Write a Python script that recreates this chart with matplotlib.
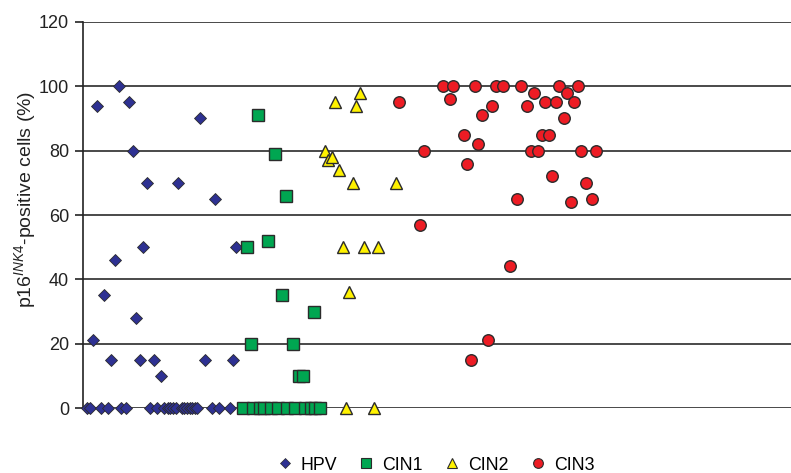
import matplotlib.pyplot as plt
from matplotlib.lines import Line2D

plt.rcParams['font.family'] = ['Liberation Sans', 'DejaVu Sans']
plt.rcParams['mathtext.fontset'] = 'custom'
plt.rcParams['mathtext.rm'] = 'Liberation Sans'
plt.rcParams['mathtext.it'] = 'Liberation Sans:italic'

# sample position (x) and % p16-positive cells (y) for each group
hpv_x = [1.2, 2.0, 2.9, 4.1, 5.1, 6.1, 7.1, 8.1, 9.1, 10.2, 10.8, 12.3, 13.1, 14.2,
         15.2, 16.2, 17.2, 18.2, 19.1, 20.3, 21.2, 22.3, 23.2, 24.1, 24.9, 25.6,
         26.4, 27.2, 28.2, 28.9, 29.7, 30.4, 31.1, 31.8, 32.5, 33.4, 34.7, 36.7,
         37.7, 38.8, 41.8, 42.7, 43.7]
hpv_y = [0, 0, 21, 94, 0, 35, 0, 15, 46, 100, 0, 0, 95, 80,
         28, 15, 50, 70, 0, 15, 0, 10, 0, 0, 0, 0,
         0, 70, 0, 0, 0, 0, 0, 0, 0, 90, 15, 0,
         65, 0, 0, 15, 50]

cin1_x = [45.7, 46.8, 47.8, 48.6, 49.8, 50.6, 51.7, 52.9, 53.7, 54.9, 55.7, 56.9,
          57.9, 58.3, 59.9, 60.6, 61.5, 62.9, 63.4, 64.9, 66.0, 66.3, 67.7]
cin1_y = [0, 50, 20, 0, 91, 0, 0, 52, 0, 79, 0, 35,
          66, 0, 20, 0, 10, 10, 0, 0, 30, 0, 0]

cin2_x = [68.9, 69.9, 71.1, 72.0, 72.9, 74.1, 74.9, 76.0, 77.1, 78.0, 79.1, 80.1,
          83.1, 84.1, 89.2]
cin2_y = [80, 77, 78, 95, 74, 50, 0, 36, 70, 94, 98, 50,
          0, 50, 70]

cin3_x = [90.2, 96.2, 97.2, 102.6, 104.6, 105.6, 108.7, 109.6, 110.7, 111.7, 112.7,
          113.7, 115.6, 116.8, 117.7, 119.8, 121.7, 123.7, 124.9, 126.8, 127.8,
          128.8, 129.9, 130.9, 131.8, 132.9, 133.8, 134.9, 135.9, 137.1, 138.1,
          139.1, 140.2, 141.2, 142.2, 143.4, 145.1, 146.3]
cin3_y = [95, 57, 80, 100, 96, 100, 85, 76, 15, 100, 82,
          91, 21, 94, 100, 100, 44, 65, 100, 94, 80,
          98, 80, 85, 95, 85, 72, 95, 100, 90, 98,
          64, 95, 100, 80, 70, 65, 80]

y_ticks = [0, 20, 40, 60, 80, 100, 120]

fig = plt.figure(figsize=(7.91, 4.73), dpi=100)
ax = fig.add_axes([0.105, 0.1374, 0.895, 0.8161])

for t in y_ticks:
    ax.axhline(t, color='#3a3a3a', lw=1.3, zorder=1)

edge = '#2b2b2b'
ax.plot(hpv_x, hpv_y, 'D', ms=6.3, mfc='#2E3192', mec=edge, mew=0.6, ls='none',
        clip_on=False, zorder=3)
ax.plot(cin1_x, cin1_y, 's', ms=8.2, mfc='#00A651', mec=edge, mew=1.0, ls='none',
        clip_on=False, zorder=3)
ax.plot(cin2_x, cin2_y, '^', ms=9, mfc='#FFF200', mec=edge, mew=1.0, ls='none',
        clip_on=False, zorder=3)
ax.plot(cin3_x, cin3_y, 'o', ms=8.3, mfc='#ED1C24', mec=edge, mew=1.0, ls='none',
        clip_on=False, zorder=3)

ax.set_xlim(0, 202)
ax.set_ylim(0, 120)
ax.set_yticks(y_ticks)
ax.set_xticks([])
for s in ['top', 'right', 'bottom']:
    ax.spines[s].set_visible(False)
ax.spines['left'].set_color('#222222')
ax.spines['left'].set_linewidth(1.2)
ax.tick_params(axis='y', length=6, width=1.2, color='#222222', labelsize=13,
               labelcolor='#222222', pad=4)
ax.set_ylabel(r'p16$^{INK4}$-positive cells (%)', fontsize=14, color='#222222',
              labelpad=0)
ax.yaxis.set_label_coords(-0.063, 0.54)

handles = [
    Line2D([], [], marker='D', ls='none', ms=5.5, mfc='#2E3192', mec=edge, mew=0.5),
    Line2D([], [], marker='s', ls='none', ms=6.5, mfc='#00A651', mec=edge, mew=0.8),
    Line2D([], [], marker='^', ms=7, ls='none', mfc='#FFF200', mec=edge, mew=0.8),
    Line2D([], [], marker='o', ms=7, ls='none', mfc='#ED1C24', mec=edge, mew=0.8),
]
fig.legend(handles, ['HPV', 'CIN1', 'CIN2', 'CIN3'], loc='lower center',
           bbox_to_anchor=(0.549, -0.035), ncol=4, frameon=False, fontsize=12.8,
           handletextpad=0.3, columnspacing=1.05, handlelength=1.2)

fig.savefig('out.png', dpi=100)
